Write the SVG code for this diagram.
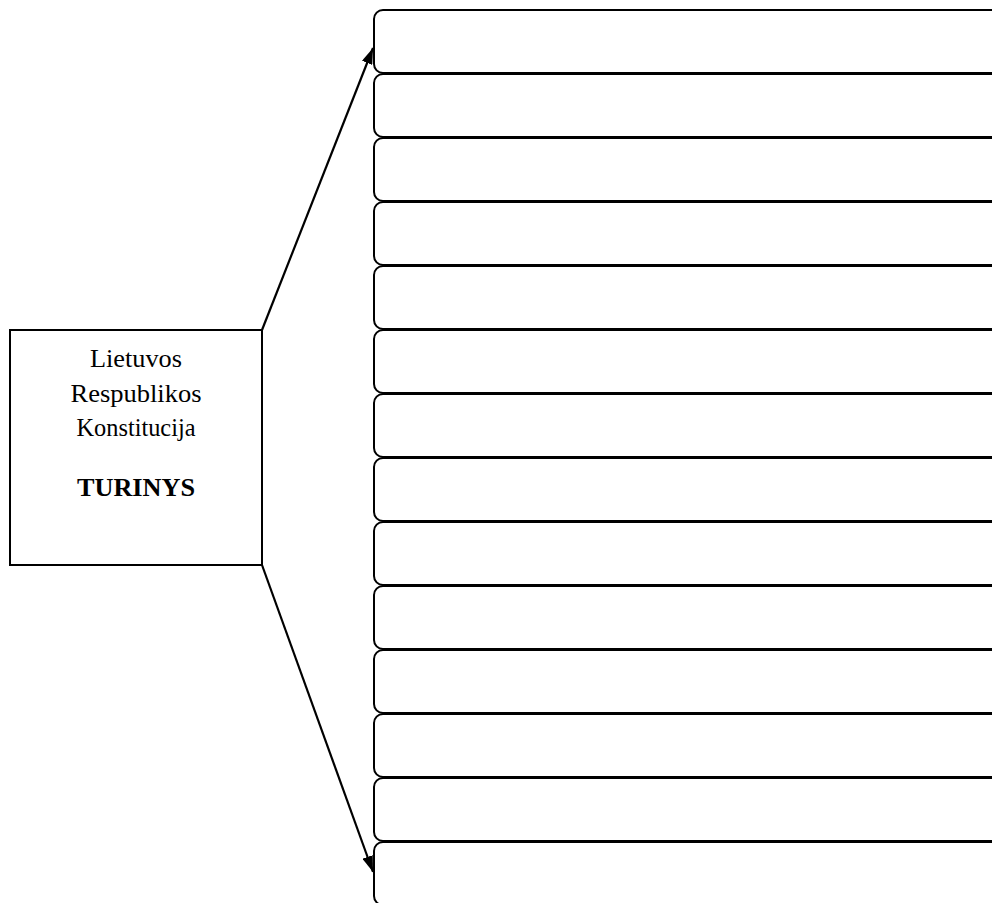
<svg xmlns="http://www.w3.org/2000/svg" width="992" height="903" viewBox="0 0 992 903">
<style>
.bx{fill:#fff;stroke:#000;stroke-width:2}
.main{fill:#fff;stroke:#000;stroke-width:2}
.t{font-family:"Liberation Serif","Times New Roman",serif;font-size:25px;fill:#000;text-anchor:middle}
.b{font-weight:bold}
.c{stroke:#000;stroke-width:2.2;fill:none}
</style>
<defs>
<marker id="ah" viewBox="0 0 16 11" refX="16" refY="5.5" markerWidth="16" markerHeight="11" markerUnits="userSpaceOnUse" orient="auto">
<path d="M0,0 L16,5.5 L0,11 z" fill="#000"/>
</marker>
</defs>
<rect width="992" height="903" fill="#fff"/>
<g id="main">
<rect class="main" x="10" y="330" width="252" height="235"/>
<text class="t" x="136" y="367" textLength="92" lengthAdjust="spacingAndGlyphs">Lietuvos</text>
<text class="t" x="136" y="401.5" textLength="131" lengthAdjust="spacingAndGlyphs">Respublikos</text>
<text class="t" x="136" y="436" textLength="119" lengthAdjust="spacingAndGlyphs">Konstitucija</text>
<text class="t b" x="136" y="496" textLength="118" lengthAdjust="spacingAndGlyphs">TURINYS</text>
</g>
<g id="item1"><rect class="bx" x="374" y="10" width="640" height="63" rx="9"/></g>
<g id="item2"><rect class="bx" x="374" y="74" width="640" height="63" rx="9"/></g>
<g id="item3"><rect class="bx" x="374" y="138" width="640" height="63" rx="9"/></g>
<g id="item4"><rect class="bx" x="374" y="202" width="640" height="63" rx="9"/></g>
<g id="item5"><rect class="bx" x="374" y="266" width="640" height="63" rx="9"/></g>
<g id="item6"><rect class="bx" x="374" y="330" width="640" height="63" rx="9"/></g>
<g id="item7"><rect class="bx" x="374" y="394" width="640" height="63" rx="9"/></g>
<g id="item8"><rect class="bx" x="374" y="458" width="640" height="63" rx="9"/></g>
<g id="item9"><rect class="bx" x="374" y="522" width="640" height="63" rx="9"/></g>
<g id="item10"><rect class="bx" x="374" y="586" width="640" height="63" rx="9"/></g>
<g id="item11"><rect class="bx" x="374" y="650" width="640" height="63" rx="9"/></g>
<g id="item12"><rect class="bx" x="374" y="714" width="640" height="63" rx="9"/></g>
<g id="item13"><rect class="bx" x="374" y="778" width="640" height="63" rx="9"/></g>
<g id="item14"><rect class="bx" x="374" y="842" width="640" height="63" rx="9"/></g>
<g id="connectors">
<line class="c" x1="262" y1="330" x2="373" y2="48" marker-end="url(#ah)"/>
<line class="c" x1="262" y1="565" x2="373" y2="872" marker-end="url(#ah)"/>
</g>
</svg>
